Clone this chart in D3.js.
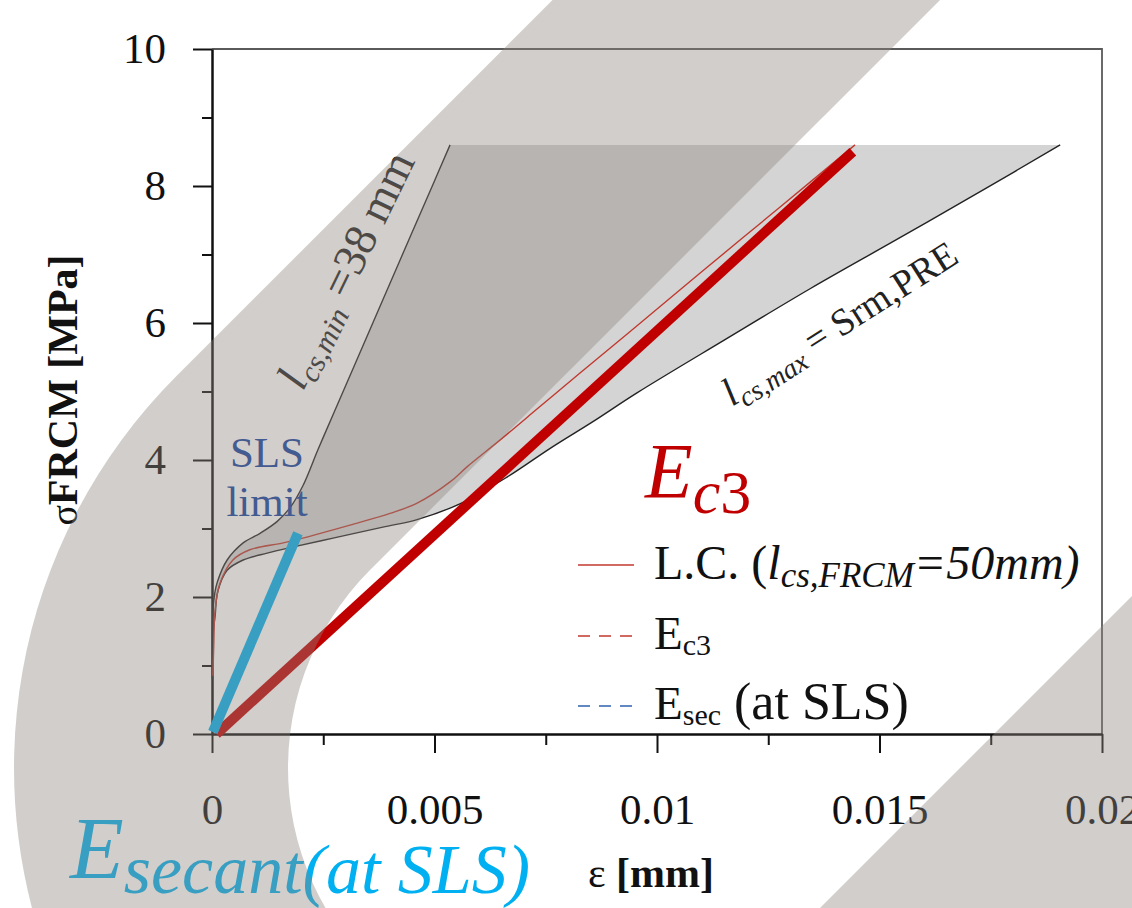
<!DOCTYPE html>
<html><head><meta charset="utf-8">
<script src="https://cdn.jsdelivr.net/npm/d3@7"></script>
<style>html,body{margin:0;padding:0;background:#fff;}svg{display:block;}</style>
</head><body>
<svg id="chart" width="1132" height="908"></svg>
<script>
// ---------- data ----------
const xTicksMajor = [0, 0.005, 0.01, 0.015, 0.02];
const xTickLabels = ["0", "0.005", "0.01", "0.015", "0.02"];
const xTicksMinor = [0.0025, 0.0075, 0.0125, 0.0175];
const yTicksMajor = [0, 2, 4, 6, 8, 10];
const yTicksMinor = [1, 3, 5, 7, 9];

// l_cs,min = 38 mm (upper bound curve)
const epsMin = [0.00001, 0.00002, 0.00006, 0.00012, 0.00034, 0.00070, 0.00108, 0.00146, 0.00175, 0.00204, 0.00238, 0.00272, 0.00348, 0.00422, 0.00497, 0.00535];
const sigMin = [0.80, 1.80, 2.05, 2.22, 2.54, 2.79, 2.93, 3.10, 3.30, 3.62, 4.15, 4.66, 5.80, 6.91, 8.03, 8.60];

// l_cs,max = s_rm,PRE (lower bound curve)
const epsMax = [0.00001, 0.00003, 0.00007, 0.00013, 0.00034, 0.00070, 0.00124, 0.00175, 0.00272, 0.00384, 0.00461, 0.00557, 0.00663, 0.00760, 0.00856, 0.00955, 0.01151, 0.01344, 0.01539, 0.01735, 0.01906];
const sigMax = [0.80, 1.50, 1.72, 2.08, 2.39, 2.54, 2.64, 2.72, 2.86, 3.02, 3.13, 3.36, 3.75, 4.17, 4.56, 4.98, 5.75, 6.50, 7.22, 7.95, 8.60];

// L.C. (l_cs,FRCM = 50 mm)
const epsLC = [0.00002, 0.00004, 0.00007, 0.00018, 0.00047, 0.00085, 0.00160, 0.00204, 0.00310, 0.00400, 0.00461, 0.00535, 0.00573, 0.00647, 0.00737, 0.00827, 0.00935, 0.01097, 0.01276, 0.01445];
const sigLC = [0.85, 1.30, 1.81, 2.20, 2.54, 2.69, 2.79, 2.86, 3.05, 3.22, 3.37, 3.68, 3.90, 4.29, 4.78, 5.27, 5.85, 6.73, 7.69, 8.60];

// E_c3 and E_sec (at SLS) straight lines
const epsEc3 = [0.0001, 0.0144];
const sigEc3 = [0.0, 8.5];
const epsSec = [0.00002, 0.00193];
const sigSec = [0.03, 2.93];

// ---------- layout ----------
const svg = d3.select("#chart");
const M = {left: 212, right: 1102, top: 49, bottom: 734};
const x = d3.scaleLinear().domain([0, 0.02]).range([M.left, M.right]);
const y = d3.scaleLinear().domain([0, 10]).range([M.bottom, M.top]);
const serif = "'Liberation Serif','Times New Roman',serif";

const line = d3.line().x(d => x(d[0])).y(d => y(d[1])).curve(d3.curveCatmullRom.alpha(0.5));
const straight = d3.line().x(d => x(d[0])).y(d => y(d[1]));

const upper = d3.zip(epsMin, sigMin);
const lower = d3.zip(epsMax, sigMax);
const lc = d3.zip(epsLC, sigLC);

// shaded envelope
const areaPath = line(upper) + line(lower.slice().reverse()).replace(/^M/, "L") + "Z";
svg.append("path").attr("d", areaPath).attr("fill", "#d4d4d4").attr("stroke", "none");

// frame (top/right)
svg.append("path")
  .attr("d", `M${M.left},${M.top}H${M.right}V${M.bottom}`)
  .attr("fill", "none").attr("stroke", "#5a5a5a").attr("stroke-width", 1.8);

// axes
const yAxis = svg.append("g").attr("transform", `translate(${M.left},0)`)
  .call(d3.axisLeft(y).tickValues(yTicksMajor).tickSize(19).tickSizeOuter(0).tickPadding(27).tickFormat(d3.format("d")));
const yAxisMinor = svg.append("g").attr("transform", `translate(${M.left},0)`)
  .call(d3.axisLeft(y).tickValues(yTicksMinor).tickSize(10).tickSizeOuter(0).tickFormat(""));
const xAxis = svg.append("g").attr("transform", `translate(0,${M.bottom})`)
  .call(d3.axisBottom(x).tickValues(xTicksMajor).tickSize(19).tickSizeOuter(0).tickPadding(40)
        .tickFormat((d, i) => xTickLabels[i]));
const xAxisMinor = svg.append("g").attr("transform", `translate(0,${M.bottom})`)
  .call(d3.axisBottom(x).tickValues(xTicksMinor).tickSize(11).tickSizeOuter(0).tickFormat(""));

[yAxis, yAxisMinor, xAxis, xAxisMinor].forEach(g => {
  g.select(".domain").attr("stroke", "#111").attr("stroke-width", 2.5);
  g.selectAll(".tick line").attr("stroke", "#111").attr("stroke-width", 2);
  g.selectAll("text").attr("font-family", serif).attr("font-size", 43).attr("fill", "#111");
});
xAxisMinor.select(".domain").remove();
yAxisMinor.select(".domain").remove();

// curves
svg.append("path").attr("d", line(upper)).attr("fill", "none").attr("stroke", "#222").attr("stroke-width", 1.4);
svg.append("path").attr("d", line(lower)).attr("fill", "none").attr("stroke", "#222").attr("stroke-width", 1.4);
svg.append("path").attr("d", line(lc)).attr("fill", "none").attr("stroke", "#c0392f").attr("stroke-width", 1.4);

// thick lines
svg.append("path").attr("d", straight(d3.zip(epsEc3, sigEc3))).attr("fill", "none")
  .attr("stroke", "#c00000").attr("stroke-width", 10);
svg.append("path").attr("d", straight(d3.zip(epsSec, sigSec))).attr("fill", "none")
  .attr("stroke", "#00b0f0").attr("stroke-width", 10);

// axis titles
const yt = svg.append("text").attr("transform", "translate(77,390) rotate(-90)")
  .attr("text-anchor", "middle").attr("font-family", serif).attr("fill", "#111");
yt.append("tspan").attr("font-size", 38).text("σ");
yt.append("tspan").attr("font-size", 42).attr("font-weight", "bold").text("FRCM [MPa]");

const xt = svg.append("text").attr("x", 651).attr("y", 887)
  .attr("text-anchor", "middle").attr("font-family", serif).attr("fill", "#111").attr("font-size", 42);
xt.append("tspan").text("ε ");
xt.append("tspan").attr("font-weight", "bold").text("[mm]");

// curve labels
const tMin = svg.append("text").attr("transform", "translate(303,392) rotate(-64)")
  .attr("font-family", serif).attr("fill", "#222");
tMin.append("tspan").attr("font-size", 46).attr("font-style", "italic").text("l");
tMin.append("tspan").attr("font-size", 30).attr("font-style", "italic").attr("dy", 8).text("cs,min");
tMin.append("tspan").attr("font-size", 46).attr("dy", -8).text(" =38 mm");

const tMax = svg.append("text").attr("transform", "translate(732,407) rotate(-32.5)")
  .attr("font-family", serif).attr("fill", "#222");
tMax.append("tspan").attr("font-size", 40).attr("font-style", "italic").text("l");
tMax.append("tspan").attr("font-size", 28).attr("font-style", "italic").attr("dy", 8).text("cs,max");
tMax.append("tspan").attr("font-size", 38).attr("dy", -8).text(" = Srm,PRE");

// SLS limit
svg.append("text").attr("x", 267).attr("y", 467).attr("text-anchor", "middle")
  .attr("font-family", serif).attr("font-size", 43).attr("fill", "#12409e").text("SLS");
svg.append("text").attr("x", 267).attr("y", 516).attr("text-anchor", "middle")
  .attr("font-family", serif).attr("font-size", 43).attr("fill", "#12409e").text("limit");

// legend
const legend = [
  {dash: null, color: "#c0392f", y: 565},
  {dash: "12,9", color: "#c0392f", y: 636},
  {dash: "12,9", color: "#2f62ad", y: 706}
];
legend.forEach(l => {
  svg.append("line").attr("x1", 578).attr("x2", 634).attr("y1", l.y).attr("y2", l.y)
    .attr("stroke", l.color).attr("stroke-width", 1.6).attr("stroke-dasharray", l.dash);
});
const lg1 = svg.append("text").attr("x", 654).attr("y", 579).attr("font-family", serif).attr("fill", "#111");
lg1.append("tspan").attr("font-size", 48).text("L.C. (");
lg1.append("tspan").attr("font-size", 48).attr("font-style", "italic").text("l");
lg1.append("tspan").attr("font-size", 35).attr("font-style", "italic").attr("dy", 8).text("cs,FRCM");
lg1.append("tspan").attr("font-size", 48).attr("font-style", "italic").attr("dy", -8).text("=50mm)");
const lg2 = svg.append("text").attr("x", 654).attr("y", 649).attr("font-family", serif).attr("fill", "#111");
lg2.append("tspan").attr("font-size", 47).text("E");
lg2.append("tspan").attr("font-size", 30).attr("dy", 6).text("c3");
const lg3 = svg.append("text").attr("x", 654).attr("y", 719).attr("font-family", serif).attr("fill", "#111");
lg3.append("tspan").attr("font-size", 47).text("E");
lg3.append("tspan").attr("font-size", 30).attr("dy", 6).text("sec");
lg3.append("tspan").attr("font-size", 52).attr("dy", -6).text(" (at SLS)");

// big annotations
const ec3 = svg.append("text").attr("x", 645).attr("y", 497).attr("font-family", serif).attr("fill", "#c00000");
ec3.append("tspan").attr("font-size", 78).attr("font-style", "italic").text("E");
ec3.append("tspan").attr("font-size", 62).attr("font-style", "italic").attr("dy", 16).text("c");
ec3.append("tspan").attr("font-size", 62).text("3");

const esec = svg.append("text").attr("x", 70).attr("y", 878).attr("font-family", serif).attr("fill", "#00b0f0");
esec.append("tspan").attr("font-size", 88).attr("font-style", "italic").text("E");
esec.append("tspan").attr("font-size", 70).attr("font-style", "italic").attr("dy", 15).text("secant(at SLS)");

// decorative translucent bands (overlay)
const bandCx = 568, bandCy = 768, rIn = 280, rOut = 554, s2 = Math.SQRT1_2;
const yEnd = 1000;
const oTop = bandCx + bandCy - rOut / s2, iTop = bandCx + bandCy - rIn / s2;
const oT = [bandCx - rOut * s2, bandCy - rOut * s2], iT = [bandCx - rIn * s2, bandCy - rIn * s2];
const oB = bandCx - Math.sqrt(rOut * rOut - (yEnd - bandCy) ** 2);
const iB = bandCx - Math.sqrt(rIn * rIn - (yEnd - bandCy) ** 2);
const bandPath = `M${oTop},0 L${oT[0]},${oT[1]} A${rOut},${rOut} 0 0 0 ${oB},${yEnd} L${iB},${yEnd} A${rIn},${rIn} 0 0 1 ${iT[0]},${iT[1]} L${iTop},0 Z`;
const overlay = svg.append("g").attr("fill", "rgb(140,132,125)").attr("fill-opacity", 0.4);
overlay.append("path").attr("d", bandPath);
overlay.append("path").attr("d", "M1132,596 L1132,908 L820,908 Z");
</script>
</body></html>
